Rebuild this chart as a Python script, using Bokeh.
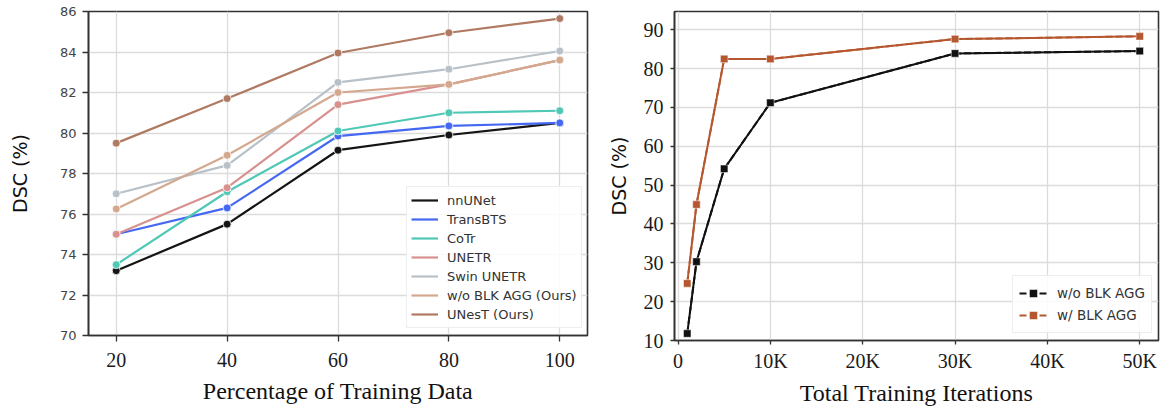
from bokeh.plotting import figure
from bokeh.layouts import row
from bokeh.models import Range1d, Legend, LegendItem, FixedTicker
from bokeh.embed import file_html
from bokeh.resources import INLINE

# ---- left chart data ----
pct = [20, 40, 60, 80, 100]
nnunet = [73.2, 75.5, 79.15, 79.9, 80.5]
transbts = [75.0, 76.3, 79.85, 80.35, 80.5]
cotr = [73.5, 77.1, 80.1, 81.0, 81.1]
unetr = [75.0, 77.3, 81.4, 82.4, 83.6]
swin = [77.0, 78.4, 82.5, 83.15, 84.05]
wo_blk = [76.25, 78.9, 82.0, 82.4, 83.6]
unest = [79.5, 81.7, 83.95, 84.95, 85.65]
left_names = ["nnUNet", "TransBTS", "CoTr", "UNETR", "Swin UNETR",
              "w/o BLK AGG (Ours)", "UNesT (Ours)"]
left_yticks = [70, 72, 74, 76, 78, 80, 82, 84, 86]
left_xticks = [20, 40, 60, 80, 100]

# ---- right chart data ----
iters = [1000, 2000, 5000, 10000, 30000, 50000]
wo_agg = [11.8, 30.3, 54.2, 71.2, 83.9, 84.5]
w_agg = [24.7, 45.0, 82.5, 82.5, 87.6, 88.3]
right_xticks = [0, 10000, 20000, 30000, 40000, 50000]
right_xlabels = ["0", "10K", "20K", "30K", "40K", "50K"]
right_yticks = [10, 20, 30, 40, 50, 60, 70, 80, 90]
right_names = ["w/o BLK AGG", "w/ BLK AGG"]

SANS = "DejaVu Sans"
SERIF = "Liberation Serif"

def style(p, tick_out):
    p.outline_line_color = "#333333"
    p.outline_line_width = 1.6
    p.xgrid.grid_line_color = "#dcdcdc"
    p.ygrid.grid_line_color = "#dcdcdc"
    p.xgrid.grid_line_width = 1.3
    p.ygrid.grid_line_width = 1.3
    for ax in (p.xaxis[0], p.yaxis[0]):
        ax.axis_line_color = "#333333"
        ax.axis_line_width = 1.6
        ax.major_tick_line_color = "#333333"
        ax.major_tick_line_width = 1.3
        ax.major_tick_out = tick_out
        ax.major_tick_in = 0
        ax.minor_tick_line_color = None
        ax.major_label_text_color = "#1a1a1a"
        ax.axis_label_text_color = "#111111"
        ax.axis_label_text_font_style = "normal"
    p.background_fill_color = "white"
    p.border_fill_color = "white"

# ---------------- left figure ----------------
p1 = figure(frame_width=499, frame_height=324, output_backend="svg",
            toolbar_location=None, x_range=Range1d(15, 105), y_range=Range1d(70, 86),
            min_border_left=88, min_border_right=10, min_border_top=11, min_border_bottom=78)
style(p1, 6)
p1.xaxis.ticker = FixedTicker(ticks=left_xticks)
p1.yaxis.ticker = FixedTicker(ticks=left_yticks)
p1.xaxis.major_label_text_font = SERIF
p1.xaxis.major_label_text_font_size = "20px"
p1.xaxis.major_label_standoff = 11
p1.yaxis.major_label_text_font = SANS
p1.yaxis.major_label_text_font_size = "13px"
p1.yaxis.major_label_text_color = "#444444"
p1.yaxis.major_label_standoff = 6
p1.xaxis.axis_label = "Percentage of Training Data"
p1.xaxis.axis_label_text_font = SERIF
p1.xaxis.axis_label_text_font_size = "24px"
p1.yaxis.axis_label = "DSC (%)"
p1.yaxis.axis_label_text_font = SANS
p1.yaxis.axis_label_text_font_size = "19px"
p1.xaxis.axis_label_standoff = 8
p1.yaxis.axis_label_standoff = 26

left_series = [nnunet, transbts, cotr, unetr, swin, wo_blk, unest]
left_colors = ["#151515", "#4468f2", "#4fc8b6", "#d8918f", "#b8c0c8", "#d4a88e", "#b07a62"]
items = []
for name, vals, col in zip(left_names, left_series, left_colors):
    r = p1.line(pct, vals, line_color=col, line_width=2.2)
    p1.scatter(pct, vals, marker="circle", size=8, fill_color=col,
               line_color="white", line_width=0.8)
    items.append(LegendItem(label=name, renderers=[r]))
leg1 = Legend(items=items, location=(318, 7), label_text_font=SANS,
              label_text_font_size="13px", label_text_color="#333333",
              glyph_width=27, glyph_height=18, label_height=18, spacing=1,
              padding=4, margin=0, border_line_color="#dddddd",
              background_fill_alpha=0.85, label_standoff=9)
p1.add_layout(leg1, "center")

# ---------------- right figure ----------------
p2 = figure(frame_width=484, frame_height=329, output_backend="svg",
            toolbar_location=None, x_range=Range1d(-380, 52030), y_range=Range1d(10, 94.7),
            min_border_left=77, min_border_right=12, min_border_top=10, min_border_bottom=74)
style(p2, 4)
p2.xaxis.ticker = FixedTicker(ticks=right_xticks)
p2.xaxis.major_label_overrides = {t: l for t, l in zip(right_xticks, right_xlabels)}
p2.yaxis.ticker = FixedTicker(ticks=right_yticks)
for ax in (p2.xaxis[0], p2.yaxis[0]):
    ax.major_label_text_font = SERIF
    ax.major_label_text_font_size = "20px"
p2.xaxis.major_label_standoff = 5
p2.yaxis.major_label_standoff = 7
p2.xaxis.axis_label = "Total Training Iterations"
p2.xaxis.axis_label_text_font = SERIF
p2.xaxis.axis_label_text_font_size = "24px"
p2.yaxis.axis_label = "DSC (%)"
p2.yaxis.axis_label_text_font = SANS
p2.yaxis.axis_label_text_font_size = "19px"
p2.xaxis.axis_label_standoff = 5
p2.yaxis.axis_label_standoff = 11

right_series = [wo_agg, w_agg]
right_colors = ["#111111", "#b5582f"]
items2 = []
for name, vals, col in zip(right_names, right_series, right_colors):
    # dashed copy lies beneath the solid line; it is only shown in the legend
    dashed = p2.line(iters, vals, line_color=col, line_width=2, line_dash="7 3")
    p2.line(iters, vals, line_color=col, line_width=2)
    s = p2.scatter(iters, vals, marker="square", size=7.5, fill_color=col,
                   line_color="white", line_width=0.5)
    items2.append(LegendItem(label=name, renderers=[dashed, s]))
leg2 = Legend(items=items2, location=(338, 7), label_text_font=SANS,
              label_text_font_size="13.5px", label_text_color="#333333",
              glyph_width=28, glyph_height=20, label_height=22, spacing=0,
              padding=6, margin=0, border_line_color="#dddddd",
              background_fill_alpha=0.85, label_standoff=10)
p2.add_layout(leg2, "center")

layout = row(p1, p2)
open("out.html", "w").write(file_html(layout, INLINE))
